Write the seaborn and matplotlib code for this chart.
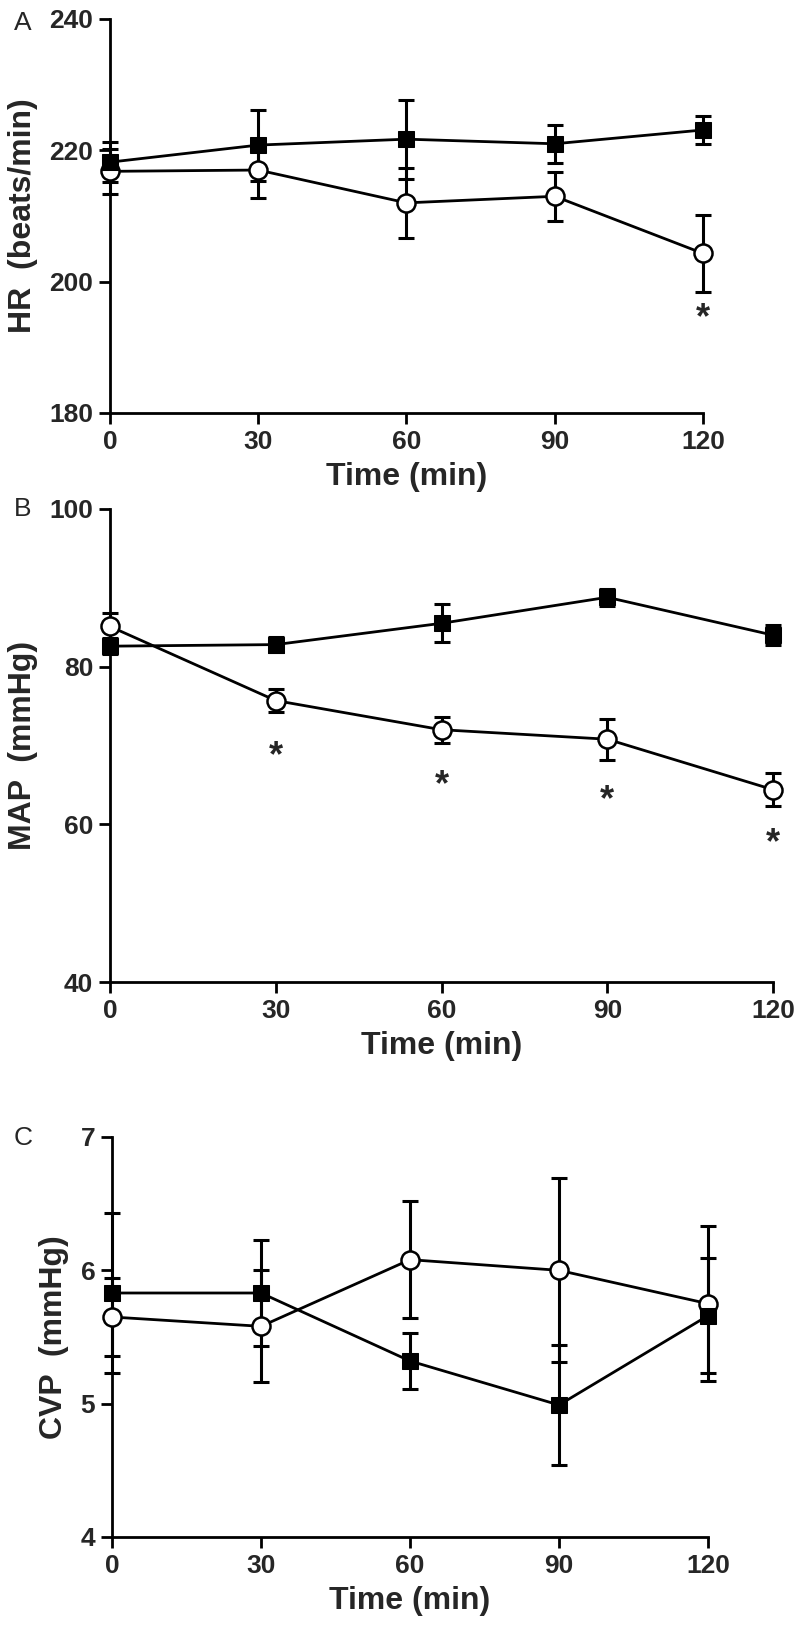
import numpy as np
import pandas as pd
import matplotlib
matplotlib.use('Agg')
import matplotlib.pyplot as plt
import seaborn as sns

# sampling times (min)
time = [0, 30, 60, 90, 120]

# A - heart rate, mean +/- SEM
hr_ctrl = [218.2, 220.8, 221.7, 221.0, 223.1]
hr_ctrl_sem = [3.0, 5.4, 6.0, 2.9, 2.2]
hr_trt = [216.8, 217.0, 212.0, 213.0, 204.3]
hr_trt_sem = [3.4, 4.2, 5.3, 3.7, 5.8]

# B - mean arterial pressure
map_ctrl = [82.6, 82.8, 85.5, 88.8, 84.0]
map_ctrl_sem = [1.0, 1.0, 2.4, 1.1, 1.3]
map_trt = [85.1, 75.7, 72.0, 70.8, 64.4]
map_trt_sem = [1.7, 1.5, 1.65, 2.6, 2.1]

# C - central venous pressure
cvp_ctrl = [5.83, 5.83, 5.32, 4.99, 5.66]
cvp_ctrl_sem = [0.60, 0.40, 0.21, 0.45, 0.43]
cvp_trt = [5.65, 5.58, 6.08, 6.00, 5.75]
cvp_trt_sem = [0.29, 0.42, 0.44, 0.69, 0.58]

# significance marks (time, y)
hr_star_t = [120]
hr_star_y = [195.6]
map_star_t = [30, 60, 90, 120]
map_star_y = [69.7, 66.0, 64.0, 58.6]

sns.set_style('ticks')
plt.rcParams['font.family'] = ['Liberation Sans', 'DejaVu Sans']
plt.rcParams['font.weight'] = 'bold'
plt.rcParams['axes.labelweight'] = 'bold'

fig = plt.figure(figsize=(8, 16.32), dpi=100)

W, H = 800, 1632
def box(l, r, t, b):
    return [l / W, 1 - b / H, (r - l) / W, (b - t) / H]

panels = [
    dict(rect=box(110, 703, 19, 413), ctrl=hr_ctrl, csem=hr_ctrl_sem, trt=hr_trt, tsem=hr_trt_sem,
         ylim=(180, 240), yticks=[180, 200, 220, 240], ylabel='HR  (beats/min)', letter='A',
         ly=23, st=hr_star_t, sy=hr_star_y),
    dict(rect=box(110, 773, 509, 982), ctrl=map_ctrl, csem=map_ctrl_sem, trt=map_trt, tsem=map_trt_sem,
         ylim=(40, 100), yticks=[40, 60, 80, 100], ylabel='MAP  (mmHg)', letter='B',
         ly=509, st=map_star_t, sy=map_star_y),
    dict(rect=box(112, 708, 1137, 1537), ctrl=cvp_ctrl, csem=cvp_ctrl_sem, trt=cvp_trt, tsem=cvp_trt_sem,
         ylim=(4, 7), yticks=[4, 5, 6, 7], ylabel='CVP  (mmHg)', letter='C',
         ly=1138, st=[], sy=[]),
]


def errbars(ax, y, e):
    cont = ax.errorbar(time, y, yerr=e, fmt='none', ecolor='black', elinewidth=2.2,
                       capsize=6, capthick=2.2, zorder=2)
    for part in cont.lines:
        if part is None:
            continue
        items = part if isinstance(part, tuple) else (part,)
        for a in items:
            a.set_clip_on(False)


for p in panels:
    ax = fig.add_axes(p['rect'])
    df = pd.DataFrame({'time': time, 'trt': p['trt'], 'ctrl': p['ctrl']})

    errbars(ax, p['trt'], p['tsem'])
    sns.lineplot(data=df, x='time', y='trt', ax=ax, color='black', lw=2,
                 marker='o', markersize=13, markerfacecolor='white',
                 markeredgecolor='black', markeredgewidth=1.8, clip_on=False, zorder=3)
    errbars(ax, p['ctrl'], p['csem'])
    sns.lineplot(data=df, x='time', y='ctrl', ax=ax, color='black', lw=2,
                 marker='s', markersize=11, markerfacecolor='black',
                 markeredgecolor='black', clip_on=False, zorder=4)

    # asterisks, nudged so the glyph centre sits on the given value
    for t, yv in zip(p['st'], p['sy']):
        ax.annotate('*', (t, yv), xytext=(0, -6), textcoords='offset points',
                    ha='center', va='center', fontsize=26, fontweight='bold')

    ax.set_xlim(0, 120)
    ax.set_ylim(*p['ylim'])
    ax.set_xticks(time)
    ax.set_yticks(p['yticks'])
    ax.set_xlabel('Time (min)', fontsize=23, labelpad=6)
    ax.set_ylabel(p['ylabel'], fontsize=23, labelpad=8)
    ax.tick_params(length=8, width=2, labelsize=19, pad=4, color='black')
    sns.despine(ax=ax)
    for s in ['left', 'bottom']:
        ax.spines[s].set_linewidth(2)
        ax.spines[s].set_color('black')

    fig.text(23 / W, 1 - p['ly'] / H, p['letter'], ha='center', va='center',
             fontsize=19, fontweight='normal')

fig.savefig('out.png', dpi=100)
